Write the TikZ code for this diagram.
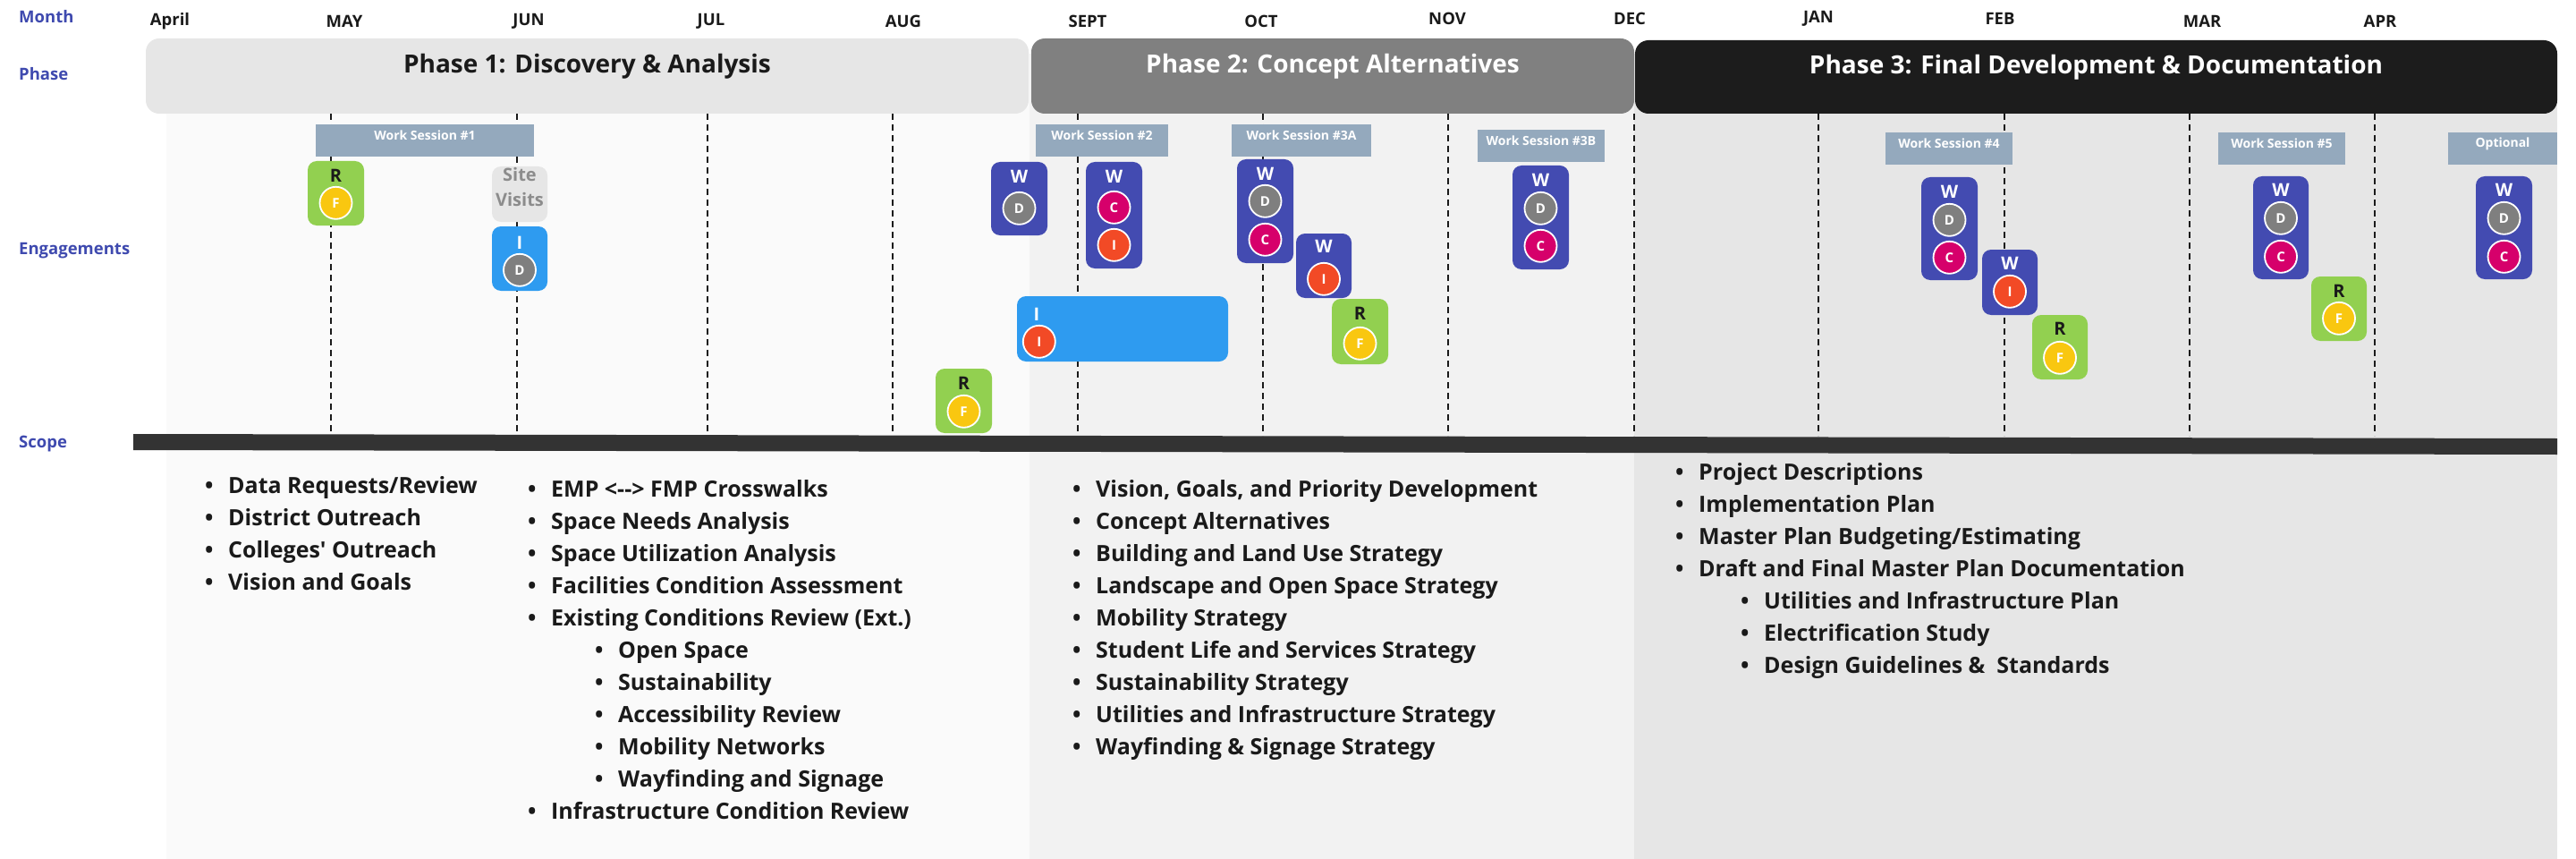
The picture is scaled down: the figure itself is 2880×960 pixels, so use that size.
\documentclass[tikz,border=0pt]{standalone}
\usepackage{fontspec}
\setmainfont{Open Sans}
\usetikzlibrary{fit}

\definecolor{labelblue}{HTML}{3F4AAF}
\definecolor{txt}{HTML}{1A1A1A}
\definecolor{phA}{HTML}{E6E6E6}
\definecolor{phB}{HTML}{808080}
\definecolor{phC}{HTML}{1C1C1C}
\definecolor{bgA}{HTML}{FAFAFA}
\definecolor{bgB}{HTML}{F2F2F2}
\definecolor{bgC}{HTML}{E6E6E6}
\definecolor{wsc}{HTML}{94A9BD}
\definecolor{navy}{HTML}{434BB1}
\definecolor{iblue}{HTML}{2E9BF0}
\definecolor{grn}{HTML}{92D050}
\definecolor{dgray}{HTML}{7F7F7F}
\definecolor{crim}{HTML}{D6006B}
\definecolor{orng}{HTML}{F24A26}
\definecolor{yel}{HTML}{F9C710}
\definecolor{sitebg}{HTML}{E6E6E6}
\definecolor{sitetx}{HTML}{8C8C8C}
\definecolor{barc}{HTML}{333333}
\definecolor{gridc}{HTML}{1A1A1A}

\newcommand{\fsz}[2]{\fontsize{#1}{#2}\selectfont\bfseries}
\newcommand{\bul}{\makebox[26pt][l]{\textbullet}}
% engagement box: name, fill, x1, y1, x2, y2
\newcommand{\ebx}[6]{\node[ebox, fill=#2, fit={(#3,#4) (#5,#6)}] (#1) {};}
% letter: name, box, text colour, offset, letter
\newcommand{\elt}[5]{\node[elet, text=#3] (#1) at ([yshift=-#4pt]#2.north) {#5};}
% circle: name, box, fill, offset, letter
\newcommand{\ecr}[5]{\node[circ, fill=#3] (#1) at ([yshift=-#4pt]#2.north) {#5};}

\begin{document}
\begin{tikzpicture}[x=1pt,y=-1pt,
  lbl/.style={anchor=west, font=\fsz{18.5}{22}, text=labelblue, inner sep=0},
  mon/.style={font=\fsz{18.5}{22}, text=txt, inner sep=0},
  phase/.style={rounded corners=15pt, inner sep=0, font=\fsz{28}{34}},
  wsbox/.style={fill=wsc, text=white, inner sep=0, font=\fsz{14}{17}},
  ebox/.style={rounded corners=10pt, inner sep=0},
  elet/.style={font=\fsz{20}{24}, inner sep=0},
  circ/.style={circle, draw=white, line width=1.8pt, minimum size=36pt, inner sep=0, font=\fsz{15}{17}, text=white},
  grid/.style={draw=gridc, line width=1.8pt, dash pattern=on 7pt off 5pt},
  item/.style={anchor=base west, font=\fsz{25}{30}, text=txt, inner sep=0}]

\useasboundingbox (0,0) rectangle (2880,960);
\fill[white] (0,0) rectangle (2880,960);

% phase backgrounds
\fill[bgA] (186,60) rectangle (1151,960);
\fill[bgB] (1151,60) rectangle (1827,960);
\fill[bgC] (1827,60) rectangle (2859,960);

% row labels
\node[lbl] (lmonth) at (21,19) {Month};
\node[lbl] (lphase) at (21,83) {Phase};
\node[lbl] (leng) at (21,280) {Engagements};
\node[lbl] (lscope) at (21,496) {Scope};

% months
\node[mon] (m1) at (190,24) {April};
\node[mon] (m2) at (385,24) {MAY};
\node[mon] (m3) at (591,24) {JUN};
\node[mon] (m4) at (795,24) {JUL};
\node[mon] (m5) at (1010,24) {AUG};
\node[mon] (m6) at (1216,24) {SEPT};
\node[mon] (m7) at (1410,24) {OCT};
\node[mon] (m8) at (1618,21) {NOV};
\node[mon] (m9) at (1822,21) {DEC};
\node[mon] (m10) at (2033,21) {JAN};
\node[mon] (m11) at (2236,21) {FEB};
\node[mon] (m12) at (2462,24) {MAR};
\node[mon] (m13) at (2661,24) {APR};

% month grid lines
\foreach \x [count=\i] in {370,578,791,998,1205,1412,1619,1827,2033,2241,2448,2655} {
  \coordinate (gt\i) at (\x,127);
  \coordinate (gb\i) at (\x,487);
  \draw[grid] (gt\i) -- (gb\i);
}

% phases
\node[phase, fill=phA, text=txt, fit={(163,43) (1150,127)}] (p1) {Phase 1: Discovery \& Analysis};
\node[phase, fill=phB, text=white, fit={(1153,43) (1827,127)}] (p2) {Phase 2: Concept Alternatives};
\node[phase, fill=phC, text=white, fit={(1828,45) (2859,127)}] (p3) {Phase 3: Final Development \& Documentation};

% work sessions
\node[wsbox, fit={(353,139) (597,175)}] (ws1) {Work Session \#1};
\node[wsbox, fit={(1158,139) (1306,175)}] (ws2) {Work Session \#2};
\node[wsbox, fit={(1377,139) (1533,175)}] (ws3a) {Work Session \#3A};
\node[wsbox, fit={(1652,145) (1794,181)}] (ws3b) {Work Session \#3B};
\node[wsbox, fit={(2108,148) (2250,184)}] (ws4) {Work Session \#4};
\node[wsbox, fit={(2480,148) (2622,184)}] (ws5) {Work Session \#5};
\node[wsbox, fit={(2737,148) (2859,184)}] (wsopt) {Optional};

% engagements
\ebx{e1}{grn}{344}{180}{407}{252}
\elt{e1l}{e1}{txt}{17}{R}
\ecr{e1a}{e1}{yel}{47}{F}

\node[ebox, fill=sitebg, text=sitetx, align=center, font=\fsz{20}{28}, fit={(550,186) (612,248)}] (e2) {Site\\Visits};

\ebx{e3}{iblue}{550}{253}{612}{325}
\elt{e3l}{e3}{white}{19}{I}
\ecr{e3a}{e3}{dgray}{49}{D}

\ebx{e4}{navy}{1108}{181}{1171}{263}
\elt{e4l}{e4}{white}{17}{W}
\ecr{e4a}{e4}{dgray}{52}{D}

\ebx{e5}{grn}{1046}{412}{1109}{484}
\elt{e5l}{e5}{txt}{17}{R}
\ecr{e5a}{e5}{yel}{48}{F}

\ebx{e6}{navy}{1214}{181}{1277}{300}
\elt{e6l}{e6}{white}{17}{W}
\ecr{e6a}{e6}{crim}{51}{C}
\ecr{e6b}{e6}{orng}{93}{I}

\ebx{e7}{iblue}{1137}{331}{1373}{404}
\node[elet, text=white] (e7l) at ([xshift=22pt,yshift=-21pt]e7.north west) {I};
\node[circ, fill=orng] (e7a) at ([xshift=25pt,yshift=-51pt]e7.north west) {I};

\ebx{e8}{navy}{1383}{178}{1446}{294}
\elt{e8l}{e8}{white}{17}{W}
\ecr{e8a}{e8}{dgray}{47}{D}
\ecr{e8b}{e8}{crim}{90}{C}

\ebx{e9}{navy}{1449}{261}{1511}{333}
\elt{e9l}{e9}{white}{15}{W}
\ecr{e9a}{e9}{orng}{51}{I}

\ebx{e10}{grn}{1489}{334}{1552}{407}
\elt{e10l}{e10}{txt}{17}{R}
\ecr{e10a}{e10}{yel}{50}{F}

\ebx{e11}{navy}{1691}{185}{1754}{301}
\elt{e11l}{e11}{white}{17}{W}
\ecr{e11a}{e11}{dgray}{48}{D}
\ecr{e11b}{e11}{crim}{90}{C}

\ebx{e12}{navy}{2148}{198}{2211}{313}
\elt{e12l}{e12}{white}{17}{W}
\ecr{e12a}{e12}{dgray}{48}{D}
\ecr{e12b}{e12}{crim}{90}{C}

\ebx{e13}{navy}{2216}{279}{2278}{352}
\elt{e13l}{e13}{white}{16}{W}
\ecr{e13a}{e13}{orng}{47}{I}

\ebx{e14}{grn}{2272}{352}{2334}{424}
\elt{e14l}{e14}{txt}{16}{R}
\ecr{e14a}{e14}{yel}{48}{F}

\ebx{e15}{navy}{2519}{197}{2581}{312}
\elt{e15l}{e15}{white}{16}{W}
\ecr{e15a}{e15}{dgray}{47}{D}
\ecr{e15b}{e15}{crim}{90}{C}

\ebx{e16}{grn}{2584}{309}{2646}{381}
\elt{e16l}{e16}{txt}{17}{R}
\ecr{e16a}{e16}{yel}{47}{F}

\ebx{e17}{navy}{2768}{197}{2831}{312}
\elt{e17l}{e17}{white}{16}{W}
\ecr{e17a}{e17}{dgray}{47}{D}
\ecr{e17b}{e17}{crim}{90}{C}

% scope bar
\fill[barc] (149,485) -- (2859,490) -- (2859,508) -- (149,503) -- cycle;

% scope column 1
\node[item] (s1a) at (229,551) {\bul Data Requests/Review};
\node[item] (s1b) at (229,587) {\bul District Outreach};
\node[item] (s1c) at (229,623) {\bul Colleges\textquotesingle\ Outreach};
\node[item] (s1d) at (229,659) {\bul Vision and Goals};

% scope column 2
\node[item] (s2a) at (590,555) {\bul EMP <-{}-> FMP Crosswalks};
\node[item] (s2b) at (590,591) {\bul Space Needs Analysis};
\node[item] (s2c) at (590,627) {\bul Space Utilization Analysis};
\node[item] (s2d) at (590,663) {\bul Facilities Condition Assessment};
\node[item] (s2e) at (590,699) {\bul Existing Conditions Review (Ext.)};
\node[item] (s2f) at (665,735) {\bul Open Space};
\node[item] (s2g) at (665,771) {\bul Sustainability};
\node[item] (s2h) at (665,807) {\bul Accessibility Review};
\node[item] (s2i) at (665,843) {\bul Mobility Networks};
\node[item] (s2j) at (665,879) {\bul Wayfinding and Signage};
\node[item] (s2k) at (590,915) {\bul Infrastructure Condition Review};

% scope column 3
\node[item] (s3a) at (1199,555) {\bul Vision, Goals, and Priority Development};
\node[item] (s3b) at (1199,591) {\bul Concept Alternatives};
\node[item] (s3c) at (1199,627) {\bul Building and Land Use Strategy};
\node[item] (s3d) at (1199,663) {\bul Landscape and Open Space Strategy};
\node[item] (s3e) at (1199,699) {\bul Mobility Strategy};
\node[item] (s3f) at (1199,735) {\bul Student Life and Services Strategy};
\node[item] (s3g) at (1199,771) {\bul Sustainability Strategy};
\node[item] (s3h) at (1199,807) {\bul Utilities and Infrastructure Strategy};
\node[item] (s3i) at (1199,843) {\bul Wayfinding \& Signage Strategy};

% scope column 4
\node[item] (s4a) at (1873,536) {\bul Project Descriptions};
\node[item] (s4b) at (1873,572) {\bul Implementation Plan};
\node[item] (s4c) at (1873,608) {\bul Master Plan Budgeting/Estimating};
\node[item] (s4d) at (1873,644) {\bul Draft and Final Master Plan Documentation};
\node[item] (s4e) at (1946,680) {\bul Utilities and Infrastructure Plan};
\node[item] (s4f) at (1946,716) {\bul Electrification Study};
\node[item] (s4g) at (1946,752) {\bul Design Guidelines \&\ \ Standards};

\end{tikzpicture}
\end{document}
